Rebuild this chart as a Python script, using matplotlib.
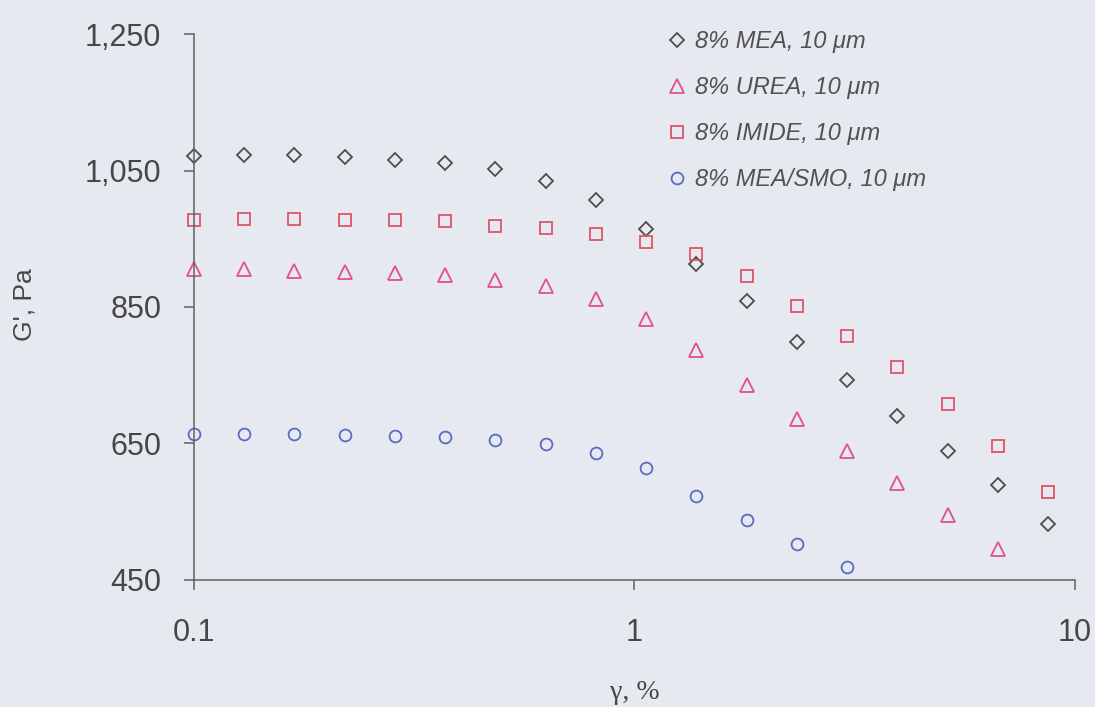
import numpy as np
import matplotlib.pyplot as plt
from matplotlib.ticker import FixedLocator, FuncFormatter

# strain, % (log spaced)
strain = [0.100, 0.130, 0.169, 0.220, 0.286, 0.372, 0.483, 0.628, 0.817,
          1.06, 1.38, 1.80, 2.34, 3.04, 3.95, 5.14, 6.68, 8.68]

# G', Pa
g_mea = [1072, 1073, 1073, 1070, 1065, 1061, 1052, 1035, 1007,
         964, 913, 859, 799, 743, 690, 639, 588, 532]
g_urea = [906, 906, 903, 901, 900, 897, 890, 880, 862,
          832, 787, 736, 685, 639, 591, 545, 495]
g_imide = [978, 979, 979, 978, 978, 976, 969, 966, 957,
           945, 928, 895, 852, 808, 762, 708, 646, 578]
g_smo = [664, 664, 664, 662, 660, 659, 655, 649, 636,
         613, 573, 538, 502, 468]

labels = ["8% MEA, 10 μm", "8% UREA, 10 μm", "8% IMIDE, 10 μm", "8% MEA/SMO, 10 μm"]
yticks = [450, 650, 850, 1050, 1250]
xticks = [0.1, 1, 10]

bg = "#e6e9ef"
axcol = "#606060"
txtcol = "#474747"

plt.rcParams['font.family'] = ['Liberation Sans', 'DejaVu Sans']

fig = plt.figure(figsize=(10.95, 7.07), dpi=100, facecolor=bg)
ax = fig.add_axes([0.1772, 0.1803, 0.8045, 0.7712], facecolor=bg)

mk = dict(linestyle="none", markerfacecolor="none", markeredgewidth=1.3, clip_on=False)
ax.plot(strain, g_mea, marker="D", markersize=6.8, markeredgecolor="#4d4d4d", label=labels[0], **mk)
ax.plot(strain[:len(g_urea)], g_urea, marker="^", markersize=9.5, markeredgecolor="#e0528a", label=labels[1], **mk)
ax.plot(strain, g_imide, marker="s", markersize=8.5, markeredgecolor="#e05468", label=labels[2], **mk)
ax.plot(strain[:len(g_smo)], g_smo, marker="o", markersize=8.5, markeredgecolor="#5a6cc0", label=labels[3], **mk)

ax.set_xscale("log")
ax.set_xlim(0.1, 10)
ax.set_ylim(450, 1250)
ax.xaxis.set_major_locator(FixedLocator(xticks))
ax.xaxis.set_minor_locator(FixedLocator([]))
ax.xaxis.set_major_formatter(FuncFormatter(lambda v, p: f"{v:g}"))
ax.yaxis.set_major_locator(FixedLocator(yticks))
ax.yaxis.set_major_formatter(FuncFormatter(lambda v, p: f"{v:,.0f}"))

for s in ["top", "right"]:
    ax.spines[s].set_visible(False)
for s in ["left", "bottom"]:
    ax.spines[s].set_color(axcol)
    ax.spines[s].set_linewidth(1.1)
ax.tick_params(axis="both", direction="out", length=7.5, width=1.1, color=axcol,
               labelsize=22, labelcolor=txtcol)
ax.tick_params(axis="x", pad=20)
ax.tick_params(axis="y", pad=16)

ax.set_xlabel("γ, %", fontsize=20, color=txtcol, family=['Liberation Serif', 'DejaVu Serif'])
ax.xaxis.set_label_coords(0.5, -0.185)
ax.set_ylabel("G', Pa", fontsize=19, color=txtcol, va="center")
ax.yaxis.set_label_coords(-0.192, 0.505)

leg = ax.legend(loc="upper left", bbox_to_anchor=(668 / 1095, 1 - 30 / 707),
                bbox_transform=fig.transFigure, frameon=False, borderpad=0,
                borderaxespad=0, handlelength=0.75, handletextpad=0.38,
                labelspacing=0.98, prop={"size": 17, "style": "italic"})
for t in leg.get_texts():
    t.set_color("#525252")

fig.savefig("out.png", dpi=100, facecolor=bg)
